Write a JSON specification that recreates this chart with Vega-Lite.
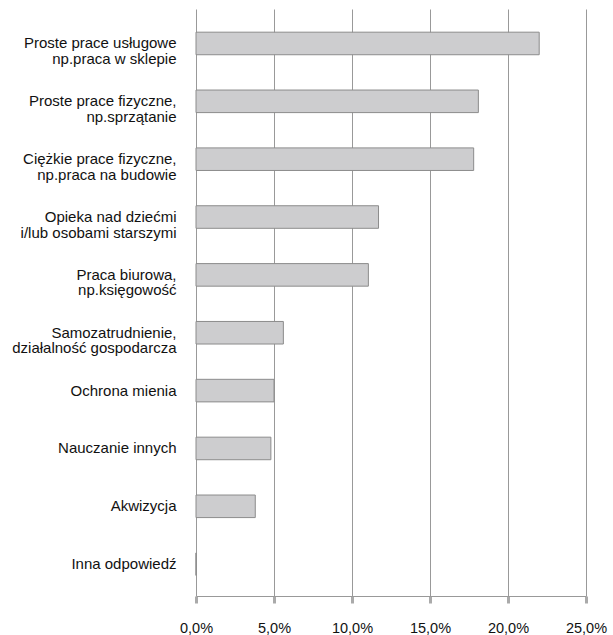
{
  "$schema": "https://vega.github.io/schema/vega-lite/v6.json",
  "width": 390,
  "height": 587,
  "autosize": {"type": "none"},
  "padding": {"left": 196, "top": 9, "right": 27, "bottom": 39},
  "background": "white",
  "data": {
    "values": [
      {"kategoria": "Proste prace usługowe|np.praca w sklepie", "udzial": 0.22},
      {"kategoria": "Proste prace fizyczne,|np.sprzątanie", "udzial": 0.181},
      {"kategoria": "Ciężkie prace fizyczne,|np.praca na budowie", "udzial": 0.178},
      {"kategoria": "Opieka nad dziećmi|i/lub osobami starszymi", "udzial": 0.117},
      {"kategoria": "Praca biurowa,|np.księgowość", "udzial": 0.1105},
      {"kategoria": "Samozatrudnienie,|działalność gospodarcza", "udzial": 0.056},
      {"kategoria": "Ochrona mienia", "udzial": 0.05},
      {"kategoria": "Nauczanie innych", "udzial": 0.048},
      {"kategoria": "Akwizycja", "udzial": 0.038},
      {"kategoria": "Inna odpowiedź", "udzial": 0}
    ]
  },
  "mark": {"type": "bar", "fill": "#cdcdcf", "stroke": "#8c8c8c", "strokeWidth": 1},
  "encoding": {
    "y": {
      "field": "kategoria",
      "type": "nominal",
      "sort": null,
      "title": null,
      "scale": {"paddingInner": 0.61, "paddingOuter": 0.378, "align": 0.53},
      "axis": {
        "domain": false,
        "ticks": false,
        "grid": false,
        "labelPadding": 20,
        "labelFont": "Liberation Sans",
        "labelFontSize": 15,
        "labelColor": "#111111",
        "labelLineHeight": 15.5,
        "labelLimit": 250,
        "labelExpr": "split(datum.label, '|')"
      }
    },
    "x": {
      "field": "udzial",
      "type": "quantitative",
      "title": null,
      "scale": {"domain": [0, 0.25], "nice": false},
      "axis": {
        "values": [0, 0.05, 0.1, 0.15, 0.2, 0.25],
        "grid": true,
        "gridColor": "#999999",
        "gridWidth": 1,
        "domainColor": "#999999",
        "domainWidth": 1,
        "tickColor": "#aaaaaa",
        "tickWidth": 3,
        "tickSize": 7,
        "labelPadding": 18,
        "labelFont": "Liberation Sans",
        "labelFontSize": 14.5,
        "labelColor": "#111111",
        "labelFlush": false,
        "labelExpr": "replace(format(datum.value, '.1%'), '.', ',')"
      }
    }
  },
  "config": {"view": {"stroke": null}}
}
